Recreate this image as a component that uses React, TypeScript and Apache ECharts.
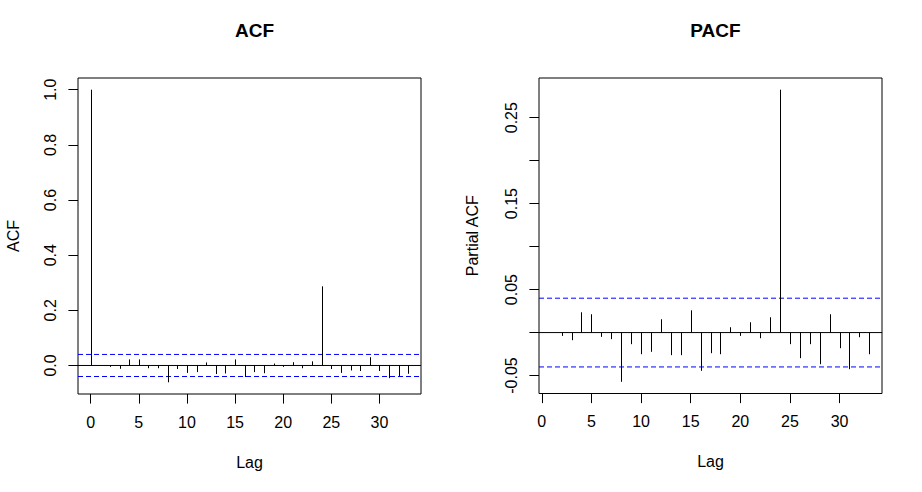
import React, { useEffect, useRef } from "react";
import * as echarts from "echarts";

const acfLags = [0, 1, 2, 3, 4, 5, 6, 7, 8, 9, 10, 11, 12, 13, 14, 15, 16, 17, 18, 19, 20, 21, 22, 23, 24, 25, 26, 27, 28, 29, 30, 31, 32, 33];
const acfValues = [1.0, 0.0, -0.005, -0.012, 0.022, 0.022, -0.010, -0.010, -0.061, -0.013, -0.027, -0.024, 0.011, -0.031, -0.029, 0.022, -0.042, -0.024, -0.028, 0.007, -0.005, 0.012, -0.010, 0.015, 0.287, -0.013, -0.027, -0.018, -0.020, 0.030, -0.020, -0.046, -0.039, -0.030];
const pacfLags = [1, 2, 3, 4, 5, 6, 7, 8, 9, 10, 11, 12, 13, 14, 15, 16, 17, 18, 19, 20, 21, 22, 23, 24, 25, 26, 27, 28, 29, 30, 31, 32, 33];
const pacfValues = [0.0, -0.0039, -0.0089, 0.0236, 0.0213, -0.005, -0.0077, -0.0573, -0.0135, -0.0252, -0.0224, 0.0155, -0.0263, -0.0263, 0.0259, -0.0445, -0.024, -0.0252, 0.0062, -0.0039, 0.012, -0.0066, 0.0178, 0.2826, -0.0135, -0.0298, -0.0135, -0.0368, 0.0213, -0.0182, -0.0426, -0.0054, -0.0252];
const confLimit = 0.04;
const lagTicks = [0, 5, 10, 15, 20, 25, 30];
const acfTicks = [0, 0.2, 0.4, 0.6, 0.8, 1.0];
const pacfTicks = [-0.05, 0, 0.05, 0.1, 0.15, 0.2, 0.25];
const pacfLabelTicks = [-0.05, 0.05, 0.15, 0.25];
const acfXRange = [-1.32, 34.32];
const pacfXRange = [-0.28, 34.28];
const acfYRange = [-0.1034, 1.0424];
const pacfYRange = [-0.0709, 0.2962];

const FONT = "Liberation Sans, Arial, sans-serif";

function renderStem(params: any, api: any) {
  const x = api.value(0);
  const y = api.value(1);
  const p0 = api.coord([x, 0]);
  const p1 = api.coord([x, y]);
  const px = Math.round(p0[0]) + 0.5;
  return {
    type: "line",
    shape: { x1: px, y1: p0[1], x2: px, y2: p1[1] },
    style: { stroke: "#000", lineWidth: 1 },
  };
}

function hLine(idx: number, xr: number[], yv: number, color: string, dashed: boolean) {
  return {
    type: "line",
    xAxisIndex: idx,
    yAxisIndex: idx,
    data: [[xr[0], yv], [xr[1], yv]],
    symbol: "none",
    silent: true,
    lineStyle: { color, width: 1, type: dashed ? [5, 3] : "solid" },
    z: 1,
  };
}

function xAxisOpt(gridIndex: number, range: number[]) {
  return {
    type: "value",
    gridIndex,
    position: "bottom",
    min: range[0],
    max: range[1],
    name: "Lag",
    nameLocation: "middle",
    nameGap: 60,
    nameTextStyle: { color: "#000", fontSize: 16, fontFamily: FONT },
    axisLine: { show: false, onZero: false },
    splitLine: { show: false },
    axisTick: { show: true, length: 9.6, inside: false, lineStyle: { color: "#000" }, customValues: lagTicks },
    axisLabel: { color: "#000", fontSize: 16, fontFamily: FONT, margin: 20, customValues: lagTicks, formatter: (v: number) => String(v) },
  };
}

function yAxisOpt(gridIndex: number, range: number[], name: string, gap: number, ticks: number[], labels: number[], digits: number) {
  return {
    type: "value",
    gridIndex,
    position: "left",
    min: range[0],
    max: range[1],
    name,
    nameLocation: "middle",
    nameGap: gap,
    nameTextStyle: { color: "#000", fontSize: 16, fontFamily: FONT },
    axisLine: { show: false, onZero: false },
    splitLine: { show: false },
    axisTick: { show: true, length: 9.6, inside: false, lineStyle: { color: "#000" }, customValues: ticks },
    axisLabel: { color: "#000", fontSize: 16, fontFamily: FONT, rotate: 90, margin: 20, customValues: labels, formatter: (v: number) => v.toFixed(digits) },
  };
}

export default function App() {
  const ref = useRef<HTMLDivElement>(null);
  useEffect(() => {
    if (!ref.current) return;
    const chart = echarts.init(ref.current, null, { renderer: "svg" });
    chart.setOption({
      animation: false,
      backgroundColor: "#fff",
      title: [
        { text: "ACF", left: 249.5, top: 16, textAlign: "center", textStyle: { color: "#000", fontSize: 19, fontWeight: "bold", fontFamily: FONT } },
        { text: "PACF", left: 710.5, top: 16, textAlign: "center", textStyle: { color: "#000", fontSize: 19, fontWeight: "bold", fontFamily: FONT } },
      ],
      grid: [
        { left: 78, top: 78, width: 343, height: 316, show: true, borderColor: "#000", borderWidth: 1, backgroundColor: "transparent" },
        { left: 539, top: 78, width: 343, height: 315.5, show: true, borderColor: "#000", borderWidth: 1, backgroundColor: "transparent" },
      ],
      xAxis: [xAxisOpt(0, acfXRange), xAxisOpt(1, pacfXRange)],
      yAxis: [
        yAxisOpt(0, acfYRange, "ACF", 57, acfTicks, acfTicks, 1),
        yAxisOpt(1, pacfYRange, "Partial ACF", 59, pacfTicks, pacfLabelTicks, 2),
      ],
      series: [
        hLine(0, acfXRange, 0, "#000000", false),
        hLine(0, acfXRange, confLimit, "#0000FF", true),
        hLine(0, acfXRange, -confLimit, "#0000FF", true),
        hLine(1, pacfXRange, 0, "#000000", false),
        hLine(1, pacfXRange, confLimit, "#0000FF", true),
        hLine(1, pacfXRange, -confLimit, "#0000FF", true),
        {
          type: "custom",
          xAxisIndex: 0,
          yAxisIndex: 0,
          renderItem: renderStem,
          encode: { x: 0, y: 1 },
          data: acfLags.map((l, i) => [l, acfValues[i]]),
          silent: true,
          z: 3,
        },
        {
          type: "custom",
          xAxisIndex: 1,
          yAxisIndex: 1,
          renderItem: renderStem,
          encode: { x: 0, y: 1 },
          data: pacfLags.map((l, i) => [l, pacfValues[i]]),
          silent: true,
          z: 3,
        },
      ],
    });
    return () => chart.dispose();
  }, []);
  return <div ref={ref} style={{ position: "absolute", left: 0, top: 0, width: 922, height: 492 }} />;
}
